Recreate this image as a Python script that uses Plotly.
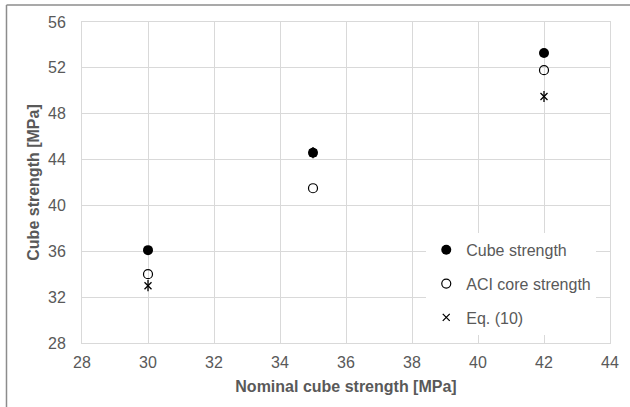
import plotly.graph_objects as go

nominal = [30, 35, 42]
cube_strength = [36.1, 44.6, 53.3]
aci_core = [34.0, 41.5, 51.8]
eq10 = [33.0, 44.6, 49.5]

x_ticks = [28, 30, 32, 34, 36, 38, 40, 42, 44]
y_ticks = [28, 32, 36, 40, 44, 48, 52, 56]

FONT = "Liberation Sans, Arial, sans-serif"
GREY = "#595959"

fig = go.Figure()
fig.add_trace(go.Scatter(x=nominal, y=eq10, mode="markers", name="Eq. (10)",
                         legendgroup="c", legendrank=3,
                         marker=dict(symbol="x-thin-open", size=7, color="black",
                                     line=dict(color="black", width=1.3))))
fig.add_trace(go.Scatter(x=nominal, y=eq10, mode="markers", name="Eq. (10)",
                         legendgroup="c", showlegend=False,
                         marker=dict(symbol="line-ns-open", size=8, color="black",
                                     line=dict(color="black", width=1.3))))
fig.add_trace(go.Scatter(x=nominal, y=aci_core, mode="markers", name="ACI core strength",
                         legendgroup="b", legendrank=2,
                         marker=dict(symbol="circle-open", size=9, color="black",
                                     line=dict(color="black", width=1.2))))
fig.add_trace(go.Scatter(x=nominal, y=cube_strength, mode="markers", name="Cube strength",
                         legendgroup="a", legendrank=1,
                         marker=dict(symbol="circle", size=10, color="black")))

fig.update_layout(
    width=630, height=407,
    margin=dict(l=82, r=20, t=22, b=64),
    paper_bgcolor="white", plot_bgcolor="white",
    font=dict(family=FONT, color=GREY, size=16),
    legend=dict(x=0.652, y=0.343, xanchor="left", yanchor="top",
                bgcolor="white", font=dict(size=16, color=GREY),
                tracegroupgap=10, itemwidth=30, traceorder="grouped"),
    shapes=[dict(type="line", xref="paper", yref="paper",
                 x0=-0.143, x1=1.3, y0=1.053, y1=1.053,
                 line=dict(color="#8c8c8c", width=1.5)),
            dict(type="line", xref="paper", yref="paper",
                 x0=-0.143, x1=-0.143, y0=-0.5, y1=1.053,
                 line=dict(color="#8c8c8c", width=1.5))],
)
fig.update_xaxes(range=[28, 44], tickvals=x_ticks, ticktext=[str(v) for v in x_ticks],
                 showgrid=True, gridcolor="#d9d9d9", gridwidth=1,
                 showline=True, linecolor="#d9d9d9", mirror=True, zeroline=False,
                 ticks="", ticklabelstandoff=5, tickfont=dict(size=16),
                 title=dict(text="<b>Nominal cube strength [MPa]</b>", standoff=10,
                            font=dict(size=16, color=GREY)))
fig.update_yaxes(range=[28, 56], tickvals=y_ticks, ticktext=[str(v) for v in y_ticks],
                 showgrid=True, gridcolor="#d9d9d9", gridwidth=1,
                 showline=True, linecolor="#d9d9d9", mirror=True, zeroline=False,
                 ticks="", ticklabelstandoff=12, tickfont=dict(size=16),
                 title=dict(text="<b>Cube strength [MPa]</b>", standoff=4,
                            font=dict(size=16, color=GREY)))

fig.write_html("out.html")
